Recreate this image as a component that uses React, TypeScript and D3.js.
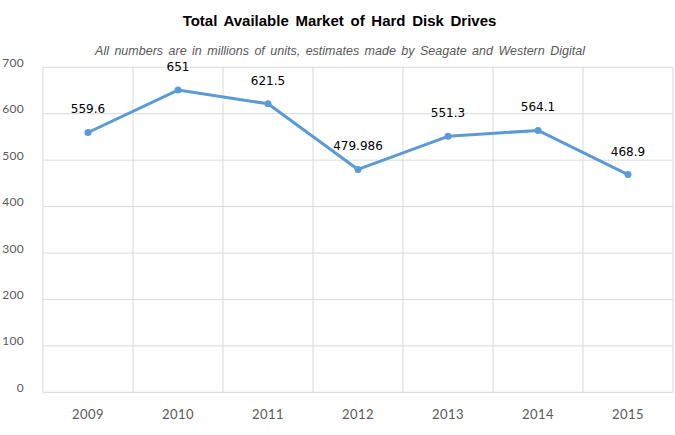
import React from "react";
import * as d3 from "d3";

const years = ["2009", "2010", "2011", "2012", "2013", "2014", "2015"];
const values = [559.6, 651, 621.5, 479.986, 551.3, 564.1, 468.9];
const yTicks = [0, 100, 200, 300, 400, 500, 600, 700];

const W = 675;
const H = 435;
const left = 43;
const right = 673;
const top = 67.3;
const bottom = 392.3;

export default function App() {
  const x = d3.scaleBand<string>().domain(years).range([left, right]);
  const y = d3.scaleLinear().domain([0, 700]).range([bottom, top]);
  const line = d3
    .line<number>()
    .x((_, i) => (x(years[i]) as number) + x.bandwidth() / 2)
    .y((d) => y(d));
  const grid = "#d9d9d9";
  return (
    <svg
      width={W}
      height={H}
      style={{ position: "absolute", left: 0, top: 0, background: "#fff" }}
    >
      <text
        x={339.5}
        y={25.5}
        textAnchor="middle"
        fontFamily="Liberation Sans, Arial, sans-serif"
        fontWeight="bold"
        fontSize={15}
        wordSpacing={2.5}
        fill="#000"
      >
        Total Available Market of Hard Disk Drives
      </text>
      <text
        x={340}
        y={55}
        textAnchor="middle"
        fontFamily="Liberation Sans, Arial, sans-serif"
        fontStyle="italic"
        fontSize={12.5}
        wordSpacing={2}
        fill="#595959"
      >
        All numbers are in millions of units, estimates made by Seagate and Western Digital
      </text>
      {yTicks.map((t) => (
        <g key={t}>
          <line x1={left} x2={right} y1={y(t)} y2={y(t)} stroke={grid} strokeWidth={1} />
          <text
            x={24}
            y={y(t) - 0.5}
            textAnchor="end"
            fontFamily="Lato, sans-serif"
            fontSize={12}
            letterSpacing={0.3}
            fill="#595959"
          >
            {t}
          </text>
        </g>
      ))}
      {years.map((yr) => (
        <line
          key={yr}
          x1={x(yr) as number}
          x2={x(yr) as number}
          y1={top}
          y2={bottom}
          stroke={grid}
          strokeWidth={1}
        />
      ))}
      <line x1={right} x2={right} y1={top} y2={bottom} stroke={grid} strokeWidth={1} />
      {years.map((yr) => (
        <text
          key={"l" + yr}
          x={(x(yr) as number) + x.bandwidth() / 2}
          y={419}
          textAnchor="middle"
          fontFamily="Lato, sans-serif"
          fontSize={13}
          letterSpacing={0.5}
          fill="#595959"
        >
          {yr}
        </text>
      ))}
      <path d={line(values) || ""} fill="none" stroke="#5B9BD5" strokeWidth={3} strokeLinejoin="round" />
      {values.map((v, i) => {
        const cx = (x(years[i]) as number) + x.bandwidth() / 2;
        return (
          <g key={"p" + i}>
            <circle cx={cx} cy={y(v)} r={3.5} fill="#5B9BD5" />
            <text
              x={cx}
              y={y(v) - 19}
              textAnchor="middle"
              fontFamily="DejaVu Sans, sans-serif"
              fontSize={12}
              fill="#000"
            >
              {String(v)}
            </text>
          </g>
        );
      })}
    </svg>
  );
}
